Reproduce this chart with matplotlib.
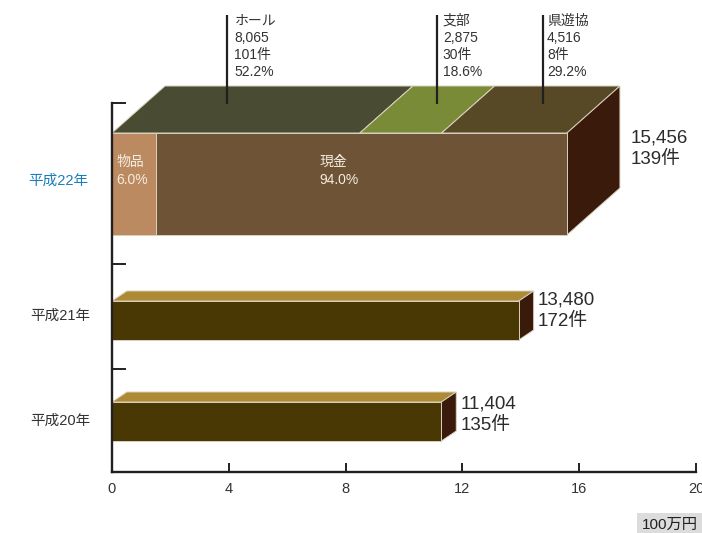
import matplotlib
matplotlib.use("Agg")
import matplotlib.pyplot as plt
from matplotlib.patches import Polygon

plt.rcParams["font.family"] = ["Liberation Sans", "Noto Sans CJK JP", "DejaVu Sans"]

# values (x in axis units, the drawing is not exactly to scale)
YEARS = ["平成22年", "平成21年", "平成20年"]
BAR_TOTALS = ["15,456\n139件", "13,480\n172件", "11,404\n135件"]
LOWER_LENGTHS = [13.93, 11.28]

FRONT_NAMES = ["物品\n6.0%", "現金\n94.0%"]
FRONT_LENGTHS = [1.51, 14.07]

TOP_NAMES = ["ホール\n8,065\n101件\n52.2%", "支部\n2,875\n30件\n18.6%", "県遊協\n4,516\n8件\n29.2%"]
TOP_LENGTHS = [8.49, 2.80, 4.29]

X_TICKS = [0, 4, 8, 12, 16, 20]

# layout: y is pixels above the baseline at 472
W, H = 702, 533
LEFT, RIGHT, BASE, TOP = 112, 696, 472, 103
DARK = "#231f20"
TEXT = "#333333"
EDGE = "#d9d0bf"


def py(p):
    return BASE - p


fig = plt.figure(figsize=(W / 100, H / 100), dpi=100)
ax = fig.add_axes([LEFT / W, (H - BASE) / H, (RIGHT - LEFT) / W, (BASE - TOP) / H])
ax.set_xlim(0, 20)
ax.set_ylim(0, BASE - TOP)
ax.patch.set_alpha(0)
for s in ("top", "right"):
    ax.spines[s].set_visible(False)
for s in ("left", "bottom"):
    ax.spines[s].set_linewidth(1.7)
    ax.spines[s].set_color(DARK)
    ax.spines[s].set_zorder(6)

ax.set_xticks(X_TICKS)
ax.set_xticklabels([str(t) for t in X_TICKS], fontsize=10.5, color=TEXT, clip_on=False)
ax.tick_params(axis="x", direction="in", length=6.5, width=1.4, color=DARK, pad=7)
ax.set_yticks([0, py(368.5), py(264), py(103)])
ax.set_yticklabels([])
ax.tick_params(axis="y", direction="in", length=10, width=1.4, color=DARK)


def box(x0, x1, y0, y1, dx, dy, top_col, front_col, side_col):
    ax.add_patch(Polygon([(x0, y1), (x1, y1), (x1 + dx, y1 + dy), (x0 + dx, y1 + dy)],
                         fc=top_col, ec=EDGE, lw=0.7, clip_on=False, zorder=2))
    ax.add_patch(Polygon([(x1, y0), (x1 + dx, y0 + dy), (x1 + dx, y1 + dy), (x1, y1)],
                         fc=side_col, ec=EDGE, lw=0.7, clip_on=False, zorder=2))
    if front_col:
        ax.add_patch(Polygon([(x0, y0), (x1, y0), (x1, y1), (x0, y1)],
                             fc=front_col, ec=EDGE, lw=0.7, clip_on=False, zorder=3))


# big bar, segmented differently on the front and on the top face
y0, y1 = py(235), py(133)
DX, DY = 1.815, 47
SIDE = "#3a1a0a"
TOP_COLS = ["#494b33", "#7a8b37", "#574826"]
FRONT_COLS = ["#bc8a60", "#6e5336"]
LEADER_X = [3.935, 11.13, 14.76]
NAME_X = [4.19, 11.33, 14.9]
NAME_PY = 46.5

x = 0
for length, col, lx, nx, name in zip(TOP_LENGTHS, TOP_COLS, LEADER_X, NAME_X, TOP_NAMES):
    box(x, x + length, y0, y1, DX, DY, col, None, SIDE)
    ax.plot([lx, lx], [py(104), py(15)], color=DARK, lw=1.6, clip_on=False, zorder=5,
            solid_capstyle="butt")
    ax.text(nx, py(NAME_PY), name, fontsize=10, color=TEXT, va="center", ha="left",
            linespacing=1.28, zorder=5)
    x += length

x = 0
for length, col in zip(FRONT_LENGTHS, FRONT_COLS):
    ax.add_patch(Polygon([(x, y0), (x + length, y0), (x + length, y1), (x, y1)],
                         fc=col, ec=EDGE, lw=0.7, clip_on=False, zorder=3))
    x += length

ax.text(0.15, py(171), FRONT_NAMES[0], fontsize=10, color="#f4ece0", va="center",
        ha="left", linespacing=1.35, zorder=5)
ax.text(7.1, py(171), FRONT_NAMES[1], fontsize=10, color="#f4ece0", va="center",
        ha="left", linespacing=1.35, zorder=5)

# two plain bars
LOWER_PY = [(301, 340), (402, 441)]
for length, (top_p, bot_p) in zip(LOWER_LENGTHS, LOWER_PY):
    box(0, length, py(bot_p), py(top_p), 0.51, 10, "#af8a35", "#493804", SIDE)

# totals to the right of each bar
TOTAL_POS = [(17.76, 148.5), (14.57, 311), (11.95, 414.5)]
for (tx, tp), label in zip(TOTAL_POS, BAR_TOTALS):
    ax.text(tx, py(tp), label, fontsize=13.5, color="#2b2b2b", va="center", ha="left",
            linespacing=1.36, zorder=5)

# year labels left of the axis
YEAR_POS = [181, 316, 421]
YEAR_COLS = ["#1a7dbd", TEXT, TEXT]
for yp, col, label, xc in zip(YEAR_POS, YEAR_COLS, YEARS, [-1.85, -1.78, -1.78]):
    ax.text(xc, py(yp), label, fontsize=10.5, color=col, va="center", ha="center")

# unit tag in the corner, runs off the figure on the right
fig.text(642 / W, (H - 525) / H, "100万円", fontsize=11, color="#222222", ha="left",
         va="center", bbox=dict(fc="#dcdcdc", ec="none", pad=4))

fig.savefig("out.png", dpi=100)
